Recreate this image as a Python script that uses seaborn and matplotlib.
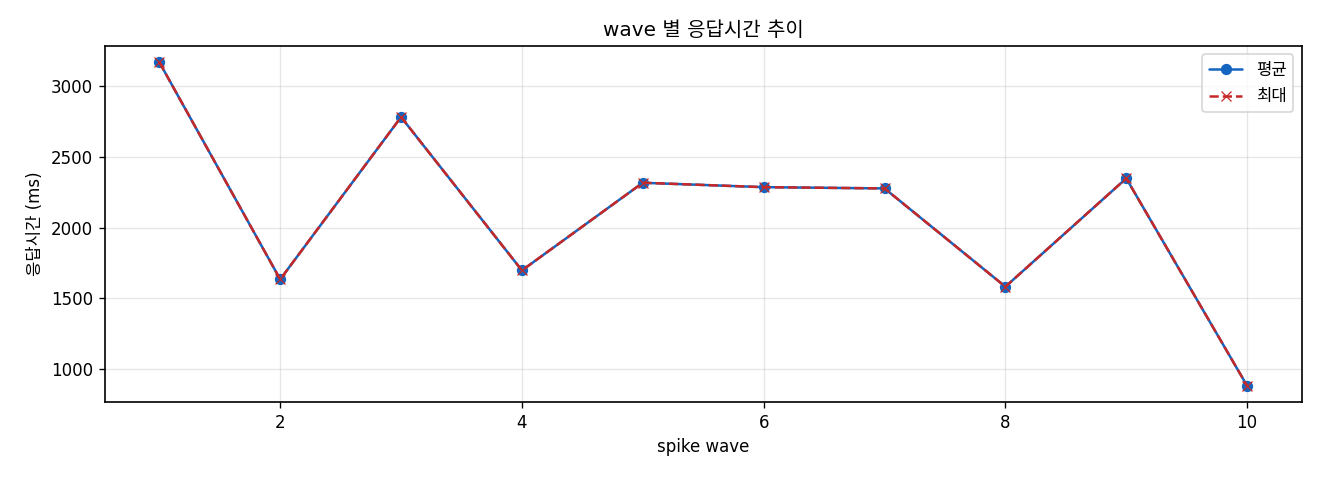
import pandas as pd
import seaborn as sns
import matplotlib.pyplot as plt

waves = [1, 2, 3, 4, 5, 6, 7, 8, 9, 10]
avg_ms = [3167, 1634, 2780, 1697, 2316, 2285, 2276, 1582, 2347, 882]
max_ms = [3167, 1634, 2780, 1697, 2316, 2285, 2276, 1582, 2347, 882]

df = pd.DataFrame({"wave": waves, "avg": avg_ms, "max": max_ms})

sns.set_style("white")
plt.rcParams['font.family'] = ['DejaVu Sans', 'Noto Sans CJK KR']
plt.rcParams['axes.unicode_minus'] = False
plt.rcParams['text.color'] = 'black'
plt.rcParams['axes.labelcolor'] = 'black'
plt.rcParams['xtick.color'] = 'black'
plt.rcParams['ytick.color'] = 'black'

fig, ax = plt.subplots(figsize=(11, 4), dpi=120)

sns.lineplot(data=df, x="wave", y="avg", ax=ax, color="#1565C0", marker="o",
             markersize=6, markeredgecolor="#1565C0", linewidth=1.5)
sns.lineplot(data=df, x="wave", y="max", ax=ax, color="#C62828", marker="x",
             markersize=6, markeredgecolor="#C62828", linewidth=1.5,
             linestyle="--")

ax.set_title("wave 별 응답시간 추이")
ax.set_xlabel("spike wave")
ax.set_ylabel("응답시간 (ms)")
ax.grid(True, alpha=0.3, color="#b0b0b0")
for s in ax.spines.values():
    s.set_color("black")
    s.set_linewidth(1.0)
ax.tick_params(axis="both", which="both", length=3.5, width=0.8, color="black", left=True, bottom=True)
ax.legend(handles=ax.lines[:2], labels=["평균", "최대"], loc="upper right")

fig.subplots_adjust(left=0.0795, right=0.986, top=0.904, bottom=0.1625)
plt.savefig("out.png")
